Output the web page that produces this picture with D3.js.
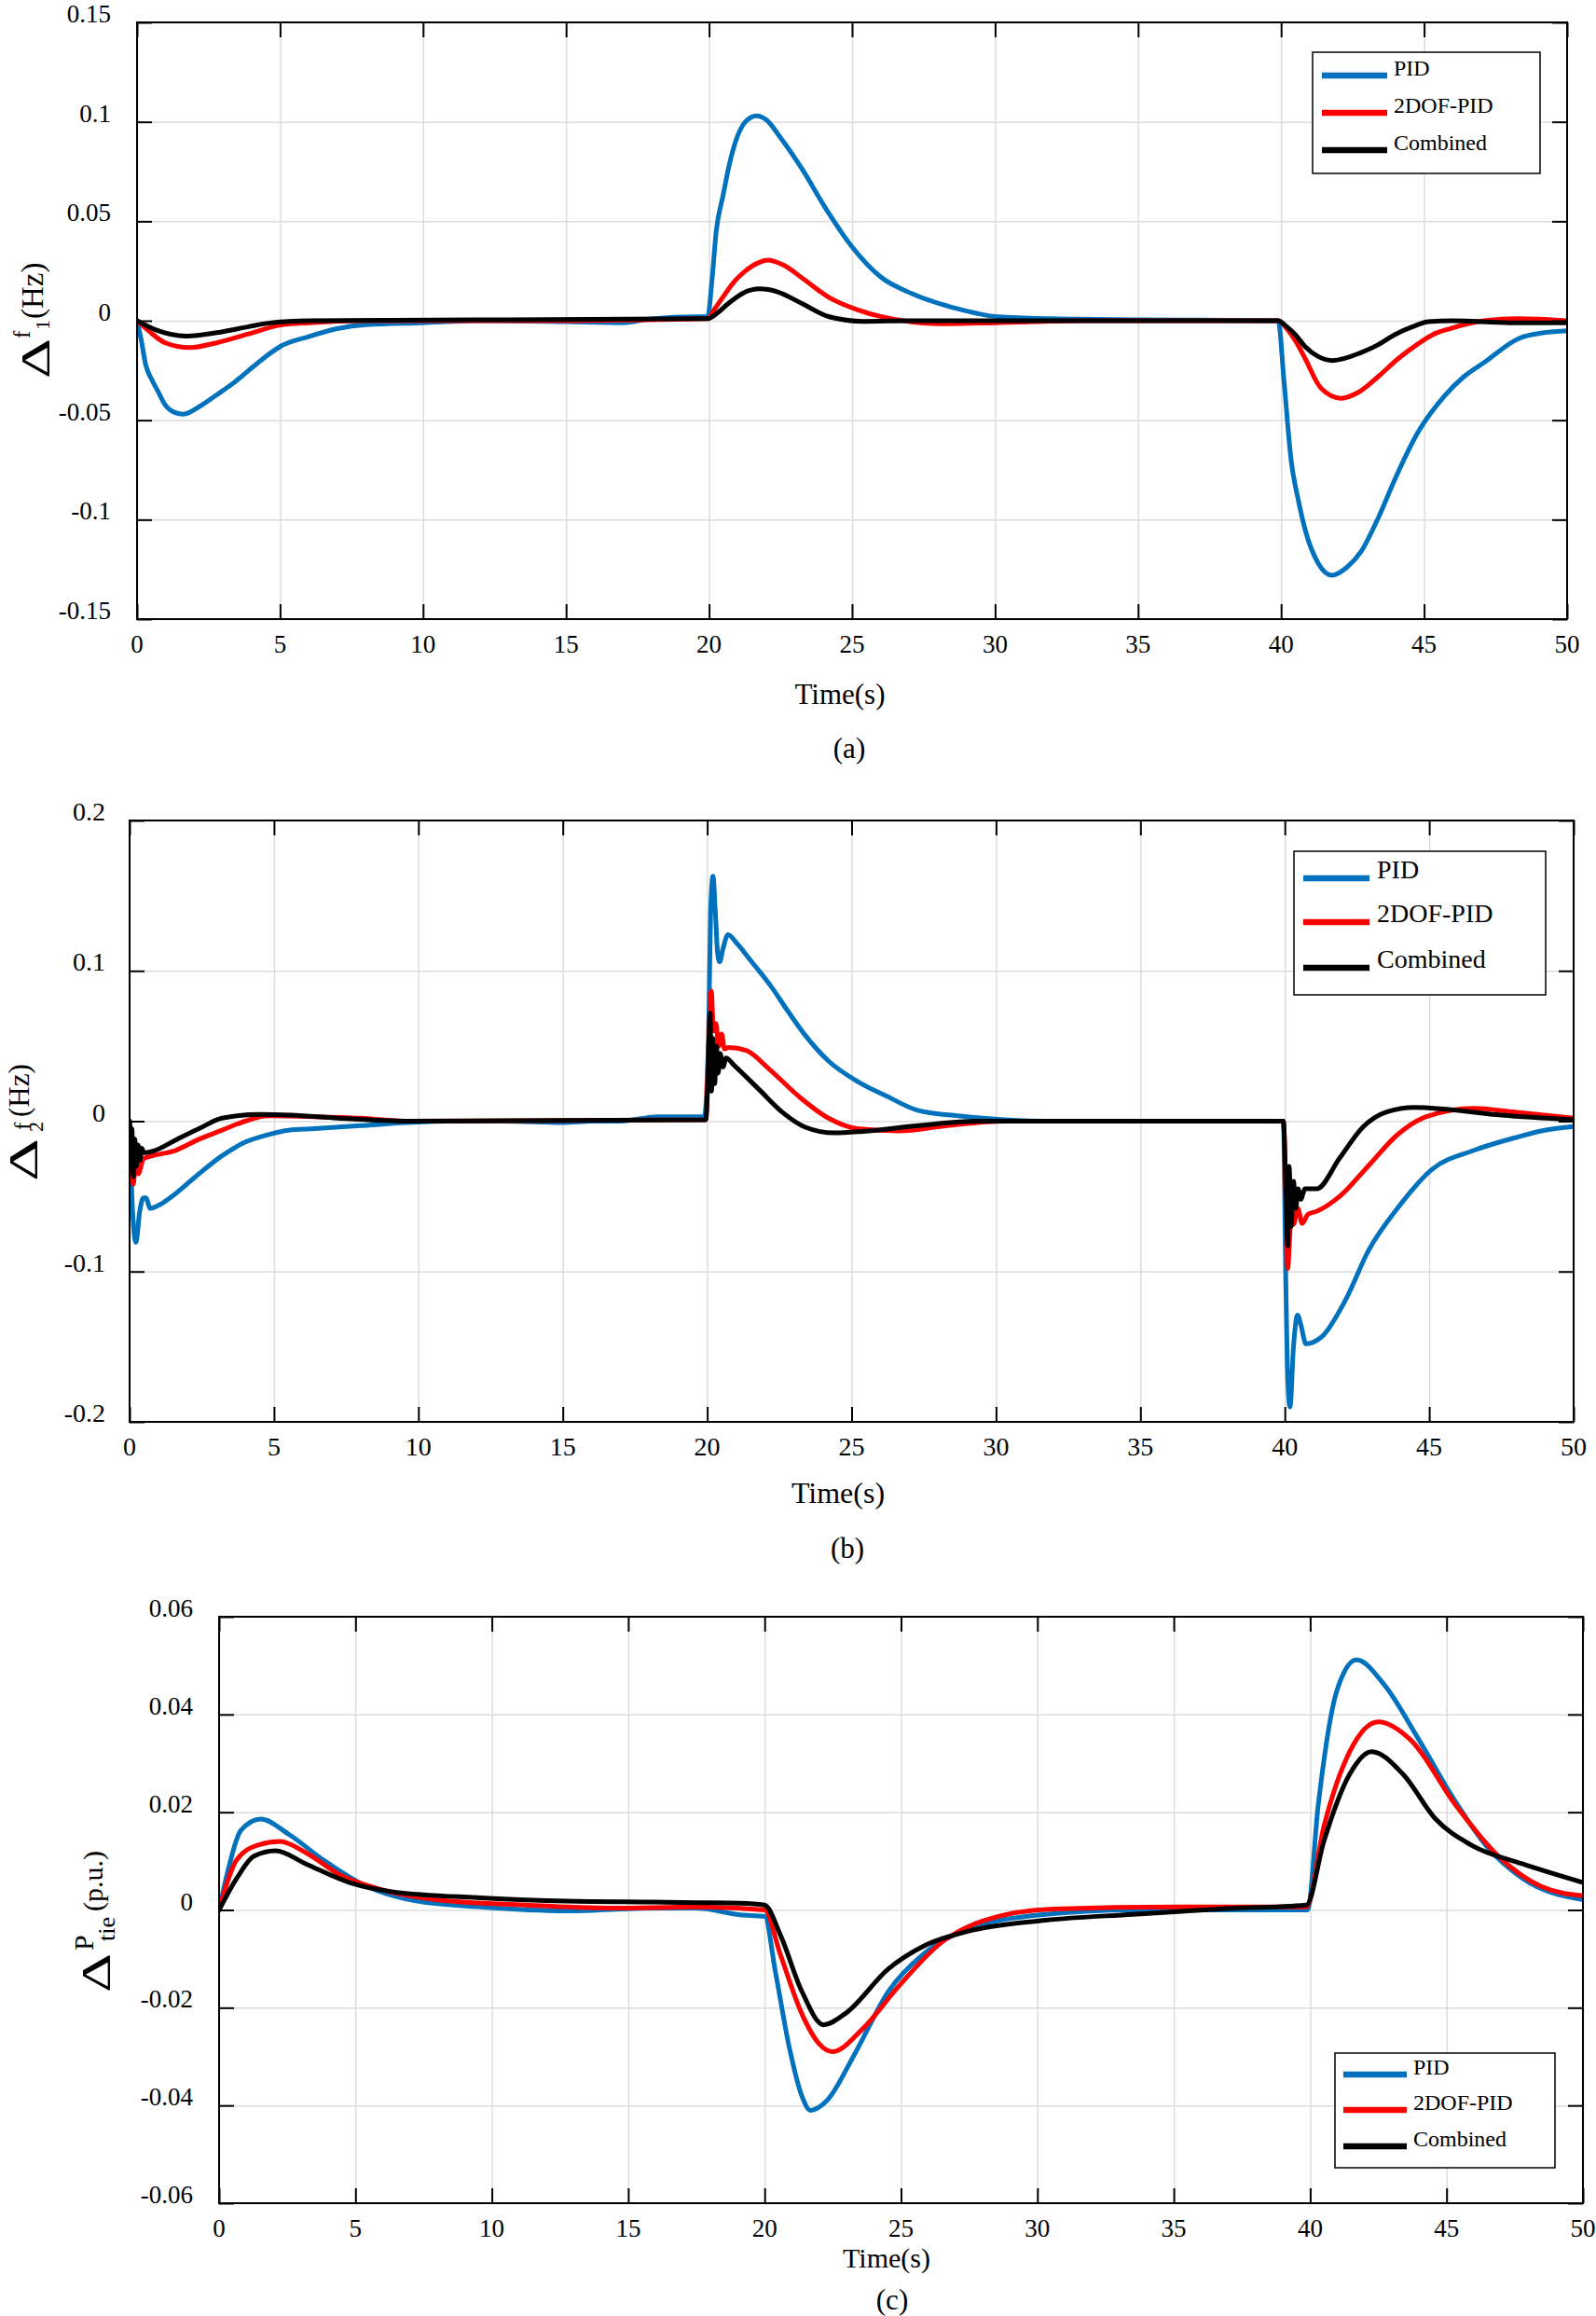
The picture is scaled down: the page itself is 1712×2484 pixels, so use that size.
<!DOCTYPE html>
<html>
<head>
<meta charset="utf-8">
<script src="https://cdn.jsdelivr.net/npm/d3@7"></script>
<style>
  body { margin: 0; background: #fff; }
  svg { display: block; font-family: "Liberation Serif", "Times New Roman", serif; }
</style>
</head>
<body>
<script>
'use strict';

// ---- data ----
var seriesNames = ['PID', '2DOF-PID', 'Combined'];
var seriesColors = ['#0072BD', '#FF0000', '#000000'];

var timeTicks = [0, 5, 10, 15, 20, 25, 30, 35, 40, 45, 50];
var f1Ticks = [-0.15, -0.1, -0.05, 0, 0.05, 0.1, 0.15];
var f2Ticks = [-0.2, -0.1, 0, 0.1, 0.2];
var ptieTicks = [-0.06, -0.04, -0.02, 0, 0.02, 0.04, 0.06];

// panel (a) delta f1
var f1PID = [[0,0],[0.15,-0.01],[0.3,-0.022],[0.53,-0.03],[0.75,-0.036],[0.97,-0.042],[1.3,-0.046],[1.62,-0.047],
  [2.2,-0.043],[2.81,-0.037],[3.4,-0.031],[3.9,-0.025],[4.5,-0.018],[5,-0.013],[6,-0.008],[7,-0.004],[8,-0.002],
  [10,-0.001],[12,0],[15,-0.0005],[17,-0.001],[18,0.001],[19.5,0.002],[19.95,0.002],[20.1,0.02],[20.25,0.045],
  [20.49,0.063],[20.7,0.078],[20.88,0.088],[21.27,0.1],[21.66,0.103],[22,0.101],[22.5,0.092],[23.22,0.077],
  [24.1,0.056],[24.98,0.0375],[26,0.022],[27.1,0.0136],[28.7,0.006],[30.1,0.002],[32,0.001],[35,0.0005],[39.9,0],
  [40.1,-0.03],[40.35,-0.07],[40.6,-0.09],[40.84,-0.105],[41.3,-0.122],[41.78,-0.128],[42.3,-0.124],[42.8,-0.116],
  [43.4,-0.099],[43.97,-0.08],[44.75,-0.057],[45.7,-0.038],[46.4,-0.028],[47.1,-0.021],[48.3,-0.009],[49.2,-0.006],[50,-0.005]];
var f1TwoDOF = [[0,0],[0.4,-0.005],[0.97,-0.011],[1.84,-0.0135],[2.8,-0.011],[3.9,-0.0066],[4.98,-0.0023],[6,-0.001],
  [8,0],[15,0],[19.95,0.001],[20.2,0.006],[20.49,0.012],[20.9,0.02],[21.27,0.025],[21.7,0.029],[22.05,0.0305],
  [22.6,0.028],[23.3,0.021],[24.2,0.0117],[25.2,0.0055],[26,0.0022],[26.8,0],[28.1,-0.0015],[30,-0.001],[33,0],[39.9,0],
  [40.2,-0.004],[40.5,-0.01],[40.84,-0.019],[41.4,-0.034],[42.1,-0.039],[42.7,-0.036],[43.4,-0.028],[44.1,-0.019],
  [44.75,-0.012],[45.3,-0.007],[45.9,-0.004],[47.1,0],[48.3,0.001],[50,0]];
var f1Combined = [[0,0],[0.64,-0.0045],[1.73,-0.0077],[2.8,-0.006],[3.9,-0.003],[4.7,-0.001],[6,0],[19.95,0.001],
  [20.3,0.004],[20.7,0.009],[21.2,0.014],[21.76,0.016],[22.4,0.0145],[23.2,0.009],[24.2,0.002],[25.4,-0.0003],[27,0],[39.9,0],
  [40.2,-0.003],[40.5,-0.007],[40.84,-0.013],[41.3,-0.018],[41.8,-0.02],[42.8,-0.016],[43.4,-0.012],[43.97,-0.007],
  [44.6,-0.003],[45.14,-0.0005],[46,0],[48,-0.001],[50,-0.001]];

// panel (b) delta f2
var f2PID = [[0,0],[0.08,-0.05],[0.22,-0.0806],[0.35,-0.06],[0.48,-0.051],[0.56,-0.051],[0.72,-0.058],[1,-0.056],
  [1.6,-0.048],[2.4,-0.035],[3.2,-0.023],[4,-0.014],[4.8,-0.009],[5.5,-0.006],[6.4,-0.005],[8,-0.003],[9.6,-0.001],
  [11,0],[13,0],[15,-0.001],[16,0],[17,0],[18.3,0.003],[19.9,0.003],
  [20.05,0.06],[20.12,0.14],[20.2,0.163],[20.28,0.14],[20.36,0.112],[20.43,0.106],[20.55,0.115],[20.72,0.124],
  [21.04,0.118],[21.5,0.107],[22.2,0.09],[22.8,0.073],[23.4,0.057],[24.2,0.04],[25.2,0.0265],[26.24,0.0164],
  [27.26,0.0074],[28.7,0.0035],[30.3,0.001],[32,0],[39.95,0],
  [40.03,-0.101],[40.1,-0.17],[40.18,-0.19],[40.3,-0.15],[40.44,-0.129],[40.55,-0.135],[40.73,-0.148],[41.3,-0.143],
  [42.1,-0.119],[42.9,-0.086],[43.9,-0.058],[45.1,-0.032],[46.55,-0.0194],[47.97,-0.011],[49,-0.006],[50,-0.0035]];
var f2TwoDOF = [[0,0],[0.05,-0.02],[0.13,-0.042],[0.2,-0.03],[0.3,-0.035],[0.48,-0.025],[0.8,-0.023],[1.6,-0.0194],
  [2.4,-0.012],[3.2,-0.006],[4,0],[4.8,0.0035],[6.4,0.003],[8,0.002],[9.6,0],[19.95,0.001],
  [20.05,0.05],[20.14,0.0865],[20.22,0.06],[20.3,0.065],[20.4,0.05],[20.5,0.058],[20.6,0.048],[20.74,0.049],
  [21.35,0.047],[22.18,0.034],[23.2,0.016],[24.2,0.002],[25.2,-0.005],[26.66,-0.0065],[28.3,-0.003],[30.3,0],[39.95,0],
  [40.05,-0.06],[40.1,-0.098],[40.2,-0.07],[40.32,-0.068],[40.45,-0.058],[40.6,-0.068],[40.8,-0.062],[41.1,-0.06],
  [41.9,-0.05],[42.9,-0.0296],[43.9,-0.009],[44.9,0.003],[46.55,0.0085],[47.97,0.006],[50,0.002]];
var f2Combined = [[0,0],[0.04,-0.03],[0.08,-0.005],[0.13,-0.037],[0.18,-0.012],[0.24,-0.03],[0.3,-0.016],[0.36,-0.026],
  [0.42,-0.018],[0.5,-0.021],[0.8,-0.02],[1.6,-0.0125],[2.4,-0.005],[3.2,0.002],[4.5,0.0045],[5.6,0.004],[7.2,0.002],
  [9.6,0],[19.95,0.001],
  [20.03,0.03],[20.1,0.072],[20.15,0.02],[20.2,0.055],[20.26,0.025],[20.32,0.05],[20.38,0.032],[20.45,0.045],
  [20.55,0.036],[20.65,0.042],[20.94,0.037],[21.8,0.021],[22.6,0.006],[23.4,-0.004],[24.4,-0.0078],[25.4,-0.0068],
  [27.3,-0.003],[29.3,0],[39.95,0],
  [40.03,-0.04],[40.1,-0.083],[40.15,-0.03],[40.22,-0.07],[40.3,-0.04],[40.38,-0.058],[40.46,-0.045],[40.55,-0.052],
  [40.7,-0.045],[41.1,-0.045],[41.9,-0.0245],[42.7,-0.004],[43.5,0.006],[44.5,0.0092],[45.5,0.008],[47.5,0.004],[50,0.001]];

// panel (c) delta P_tie
var ptiePID = [[0,0],[0.32,0.0079],[0.8,0.0163],[1.53,0.0186],[2.55,0.0155],[3.83,0.0102],[5.42,0.0048],[7,0.0021],
  [9.6,0.0006],[12.8,-0.0002],[15.9,0.0004],[17.5,0.0004],[19.1,-0.001],[20,-0.0013],
  [20.4,-0.0128],[20.9,-0.028],[21.36,-0.038],[21.68,-0.041],[22.3,-0.0389],[23.28,-0.0297],[24.55,-0.0166],
  [25.83,-0.009],[27.4,-0.004],[30.3,-0.0009],[33.5,0],[36.7,0],[39.9,0],
  [40.3,0.0217],[40.97,0.0447],[41.7,0.0512],[42.7,0.0462],[44,0.0347],[45.3,0.0224],[46.55,0.0125],[47.8,0.0064],[50,0.0021]];
var ptieTwoDOF = [[0,0],[0.64,0.0102],[1.43,0.0133],[2.23,0.014],[3.19,0.0117],[4.46,0.0071],[6.06,0.004],[7.97,0.0021],
  [11.2,0.001],[14.35,0.0004],[17.5,0.0006],[20,0],
  [20.57,-0.009],[21.36,-0.0212],[22,-0.0274],[22.48,-0.029],[23.6,-0.0243],[24.87,-0.0159],[26.47,-0.0067],
  [28.06,-0.0021],[30.6,0.0002],[35.1,0.0006],[39.86,0.0006],
  [40.5,0.017],[41.45,0.0324],[42.5,0.0385],[43.7,0.0347],[45.3,0.0217],[46.9,0.011],[48.47,0.0048],[50,0.0029]];
var ptieCombined = [[0,0],[0.64,0.0064],[1.28,0.011],[2.07,0.0121],[3.19,0.0094],[4.78,0.0056],[6.38,0.0037],
  [9.57,0.0025],[12.75,0.0018],[15.94,0.0016],[19.1,0.0014],[20,0.001],
  [20.57,-0.005],[21.36,-0.0166],[22.16,-0.0235],[22.96,-0.0212],[24.55,-0.012],[25.83,-0.0074],[27.42,-0.0044],
  [30.3,-0.0021],[33.5,-0.0009],[36.7,0.0002],[39.86,0.001],
  [40.5,0.014],[41.45,0.0278],[42.25,0.0324],[43.4,0.0278],[44.6,0.0186],[45.9,0.0133],[47.8,0.0094],[50,0.0056]];

// ---- layout ----
var width = 1712, height = 2484;

var panels = [
  { name: 'a', l: 147, r: 1681, t: 24, b: 664, y: [-0.15, 0.15], yTicks: f1Ticks, tickFont: 27, yLabelGap: 28,
    series: [f1PID, f1TwoDOF, f1Combined],
    legend: { x: 1408, y: 56, w: 244, h: 130, lx: 10, lw: 70, rows: [25, 65, 105], tx: 87, fs: 24 },
    title: { x: 901, y: 755, fs: 31 }, caption: { x: 911, y: 813, text: '(a)' },
    ylab: [
      { text: '\u0394', x: 53, y: 406, fs: 44, len: 43 },
      { text: 'f', x: 32, y: 363, fs: 25 },
      { text: '1', x: 53, y: 354, fs: 22 },
      { text: '(Hz)', x: 46, y: 342, fs: 33 }
    ] },
  { name: 'b', l: 139, r: 1688, t: 880, b: 1525, y: [-0.2, 0.2], yTicks: f2Ticks, tickFont: 28, yLabelGap: 26,
    series: [f2PID, f2TwoDOF, f2Combined],
    legend: { x: 1388, y: 913, w: 270, h: 154, lx: 10, lw: 71, rows: [29, 76, 125], tx: 89, fs: 28 },
    title: { x: 899, y: 1612, fs: 32 }, caption: { x: 909, y: 1671, text: '(b)' },
    ylab: [
      { text: '\u0394', x: 40, y: 1267, fs: 44, len: 46 },
      { text: 'f', x: 33, y: 1212, fs: 25 },
      { text: '2', x: 46, y: 1214, fs: 22 },
      { text: '(Hz)', x: 31, y: 1198, fs: 31 }
    ] },
  { name: 'c', l: 235, r: 1698, t: 1734, b: 2363, y: [-0.06, 0.06], yTicks: ptieTicks, tickFont: 27, yLabelGap: 28,
    series: [ptiePID, ptieTwoDOF, ptieCombined],
    legend: { x: 1432, y: 2202, w: 236, h: 123, lx: 9, lw: 68, rows: [23, 61, 100], tx: 84, fs: 24 },
    title: { x: 951, y: 2432, fs: 30 }, caption: { x: 957, y: 2477, text: '(c)' },
    ylab: [
      { text: '\u0394', x: 118, y: 2137, fs: 44, len: 42 },
      { text: 'P', x: 100, y: 2092, fs: 30 },
      { text: 'tie', x: 123, y: 2082, fs: 26 },
      { text: '(p.u.)', x: 110, y: 2050, fs: 30 }
    ] }
];

var svg = d3.select('body').append('svg')
  .attr('width', width)
  .attr('height', height);

var line = d3.line().curve(d3.curveMonotoneX);

panels.forEach(function(p) {
  var x = d3.scaleLinear().domain([0, 50]).range([p.l, p.r]);
  var y = d3.scaleLinear().domain(p.y).range([p.b, p.t]);
  var g = svg.append('g');
  var h = p.b - p.t, w = p.r - p.l;

  // grid
  g.append('g')
    .attr('transform', 'translate(0,' + p.b + ')')
    .call(d3.axisBottom(x).tickValues(timeTicks).tickSize(-h).tickFormat(''))
    .call(function(s) { s.select('.domain').remove(); })
    .selectAll('line').attr('stroke', '#dcdcdc').attr('stroke-width', 1.5);
  g.append('g')
    .attr('transform', 'translate(' + p.l + ',0)')
    .call(d3.axisLeft(y).tickValues(p.yTicks).tickSize(-w).tickFormat(''))
    .call(function(s) { s.select('.domain').remove(); })
    .selectAll('line').attr('stroke', '#dcdcdc').attr('stroke-width', 1.5);

  // curves
  var clipId = 'clip-' + p.name;
  svg.append('clipPath').attr('id', clipId)
    .append('rect').attr('x', p.l).attr('y', p.t).attr('width', w).attr('height', h);
  line.x(function(d) { return x(d[0]); }).y(function(d) { return y(d[1]); });
  g.append('g').attr('clip-path', 'url(#' + clipId + ')')
    .selectAll('path').data(p.series).enter().append('path')
    .attr('d', line)
    .attr('fill', 'none')
    .attr('stroke', function(d, i) { return seriesColors[i]; })
    .attr('stroke-width', 5)
    .attr('stroke-linejoin', 'round')
    .attr('stroke-linecap', 'round');

  // inward ticks on all four sides
  var tk = 16;
  [[d3.axisBottom(x).tickValues(timeTicks), 'translate(0,' + p.b + ')'],
   [d3.axisTop(x).tickValues(timeTicks), 'translate(0,' + p.t + ')'],
   [d3.axisLeft(y).tickValues(p.yTicks), 'translate(' + p.l + ',0)'],
   [d3.axisRight(y).tickValues(p.yTicks), 'translate(' + p.r + ',0)']
  ].forEach(function(a) {
    g.append('g').attr('transform', a[1])
      .call(a[0].tickSize(-tk).tickFormat(''))
      .call(function(s) { s.select('.domain').remove(); })
      .selectAll('line').attr('stroke', '#000').attr('stroke-width', 2);
  });

  // frame
  g.append('rect')
    .attr('x', p.l).attr('y', p.t).attr('width', w).attr('height', h)
    .attr('fill', 'none').attr('stroke', '#000').attr('stroke-width', 2);

  // tick labels
  g.selectAll('.xl').data(timeTicks).enter().append('text')
    .attr('x', function(d) { return x(d); })
    .attr('y', p.b + 36)
    .attr('text-anchor', 'middle')
    .attr('font-size', p.tickFont)
    .text(function(d) { return d; });
  g.selectAll('.yl').data(p.yTicks).enter().append('text')
    .attr('x', p.l - p.yLabelGap)
    .attr('y', function(d) { return y(d); })
    .attr('text-anchor', 'end')
    .attr('font-size', p.tickFont)
    .text(function(d) { return String(d); });

  // axis titles
  g.append('text').attr('x', p.title.x).attr('y', p.title.y)
    .attr('text-anchor', 'middle').attr('font-size', p.title.fs).text('Time(s)');
  g.append('text').attr('x', p.caption.x).attr('y', p.caption.y)
    .attr('text-anchor', 'middle').attr('font-size', 31).text(p.caption.text);

  p.ylab.forEach(function(s) {
    var t = g.append('text')
      .attr('transform', 'translate(' + s.x + ',' + s.y + ') rotate(-90)')
      .attr('font-size', s.fs)
      .text(s.text);
    if (s.len) t.attr('textLength', s.len).attr('lengthAdjust', 'spacingAndGlyphs');
  });

  // legend
  var L = p.legend;
  var lg = g.append('g').attr('transform', 'translate(' + L.x + ',' + L.y + ')');
  lg.append('rect').attr('width', L.w).attr('height', L.h)
    .attr('fill', '#fff').attr('stroke', '#000').attr('stroke-width', 1.5);
  seriesNames.forEach(function(n, i) {
    lg.append('line')
      .attr('x1', L.lx).attr('x2', L.lx + L.lw)
      .attr('y1', L.rows[i]).attr('y2', L.rows[i])
      .attr('stroke', seriesColors[i]).attr('stroke-width', 6.5);
    lg.append('text')
      .attr('x', L.tx).attr('y', L.rows[i])
      .attr('font-size', L.fs)
      .text(n);
  });
});
</script>
</body>
</html>
